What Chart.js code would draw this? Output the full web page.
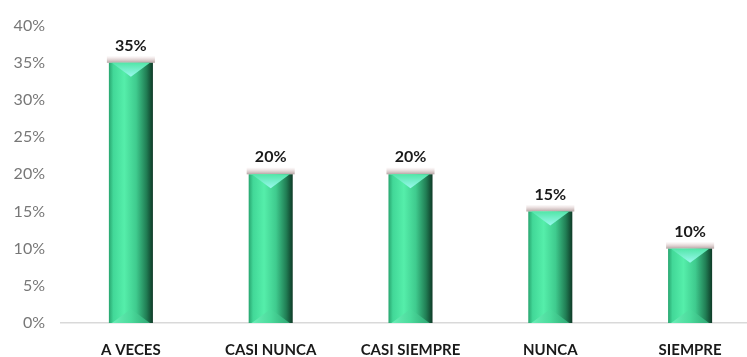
<!DOCTYPE html>
<html>
<head>
<meta charset="utf-8">
<script src="https://cdn.jsdelivr.net/npm/chart.js@4"></script>
<style>
  html, body { margin: 0; padding: 0; background: #fff; overflow: hidden; }
  #wrap { width: 760px; height: 357px; }
</style>
</head>
<body>
<div id="wrap"><canvas id="chart"></canvas></div>
<script>
const categories = ["A VECES", "CASI NUNCA", "CASI SIEMPRE", "NUNCA", "SIEMPRE"];
const values = [35, 20, 20, 15, 10];
const yTicks = [0, 5, 10, 15, 20, 25, 30, 35, 40];

const FONT = "Lato, 'Open Sans', sans-serif";

// paints each bar as a bevelled green column with a soft shadow on top
const bevelBars = {
    id: "bevelBars",
    afterDatasetsDraw(chart) {
        const ctx = chart.ctx;
        const meta = chart.getDatasetMeta(0);
        meta.data.forEach((bar, i) => {
            const w = bar.width;
            const left = bar.x - w / 2, right = bar.x + w / 2;
            const top = bar.y, bottom = bar.base;
            const b = Math.min(14, (bottom - top) / 2);
            ctx.save();

            // shadow band above the top face
            const sh = ctx.createLinearGradient(0, top - 7, 0, top);
            sh.addColorStop(0, "rgba(210,170,170,0)");
            sh.addColorStop(1, "rgba(150,125,125,0.7)");
            ctx.fillStyle = sh;
            ctx.fillRect(left - 2, top - 7, w + 4, 7);

            // body
            const g = ctx.createLinearGradient(left, 0, right, 0);
            g.addColorStop(0, "#28a56f");
            g.addColorStop(0.1, "#42d898");
            g.addColorStop(0.35, "#55eeaa");
            g.addColorStop(0.62, "#3fcb8e");
            g.addColorStop(0.85, "#217f55");
            g.addColorStop(1, "#0e3a27");
            ctx.fillStyle = g;
            ctx.fillRect(left, top, w, bottom - top);

            // top bevel
            const tg = ctx.createLinearGradient(0, top, 0, top + b);
            tg.addColorStop(0, "#52e6a8");
            tg.addColorStop(1, "#9af8ee");
            ctx.fillStyle = tg;
            ctx.beginPath();
            ctx.moveTo(left + 3, top);
            ctx.lineTo(right - 3, top);
            ctx.lineTo(bar.x, top + b);
            ctx.closePath();
            ctx.fill();

            // bottom bevel
            const bg = ctx.createLinearGradient(left, 0, right, 0);
            bg.addColorStop(0, "#70f0bb");
            bg.addColorStop(0.5, "#4bdb9c");
            bg.addColorStop(1, "#2a9e6c");
            ctx.fillStyle = bg;
            ctx.beginPath();
            ctx.moveTo(left + 3, bottom);
            ctx.lineTo(right - 3, bottom);
            ctx.lineTo(bar.x, bottom - b);
            ctx.closePath();
            ctx.fill();

            // value label
            ctx.fillStyle = "#1a1a1a";
            ctx.font = "bold 16px " + FONT;
            ctx.textAlign = "center";
            ctx.textBaseline = "middle";
            ctx.fillText(values[i] + "%", bar.x, top - 17);
            ctx.restore();
        });
    }
};

new Chart(document.getElementById("chart"), {
    type: "bar",
    data: {
        labels: categories,
        datasets: [{
            data: values,
            backgroundColor: "rgba(0,0,0,0)",
            borderWidth: 0,
            categoryPercentage: 1,
            barPercentage: 0.315
        }]
    },
    options: {
        responsive: true,
        maintainAspectRatio: false,
        animation: false,
        layout: { padding: { top: 22, right: 0, left: 0, bottom: 0 } },
        plugins: { legend: { display: false }, tooltip: { enabled: false } },
        scales: {
            x: {
                grid: { display: false, drawTicks: false },
                border: { display: true, color: "#d9d9d9", width: 1.5 },
                ticks: {
                    padding: 18,
                    color: "#1a1a1a",
                    font: { family: FONT, size: 15, weight: "bold" }
                },
                afterFit(scale) { scale.height = 34; }
            },
            y: {
                min: 0,
                max: 40,
                afterBuildTicks(scale) { scale.ticks = yTicks.map(v => ({ value: v })); },
                grid: { display: false, drawTicks: false },
                border: { display: false },
                ticks: {
                    padding: 16,
                    color: "#777777",
                    font: { family: FONT, size: 16 },
                    callback: v => v + "%"
                },
                afterFit(scale) { scale.width = 61; }
            }
        }
    },
    plugins: [bevelBars]
});
</script>
</body>
</html>
